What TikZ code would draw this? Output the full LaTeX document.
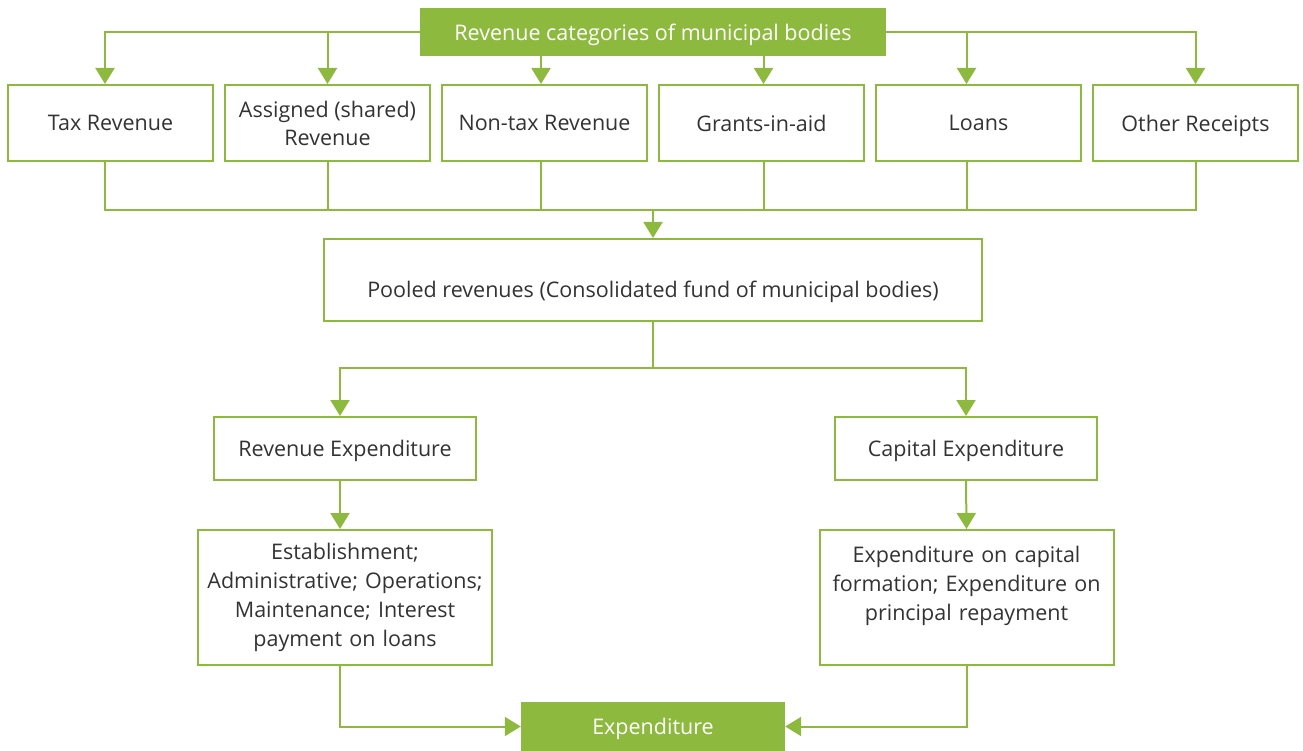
\documentclass[tikz,border=0pt]{standalone}
\usepackage{fontspec}
\setmainfont{Open Sans}
\usetikzlibrary{arrows.meta}
\definecolor{grn}{HTML}{8DB93F}
\definecolor{txt}{HTML}{333333}
\begin{document}
\begin{tikzpicture}[x=1pt,y=-1pt,
  detbox/.style={draw=grn, line width=2pt, fill=white, text=txt, font=\fontsize{21.5}{29}\selectfont, align=center, inner sep=0pt},
  box/.style={detbox, text depth=0pt},
  fbox/.style={fill=grn, text=white, font=\fontsize{21.5}{29}\selectfont, align=center, inner sep=0pt, text depth=0pt},
  line/.style={draw=grn, line width=2pt},
  arr/.style={line, -{Triangle[width=19pt,length=16pt]}}]
\useasboundingbox (0,0) rectangle (1303,751);
\node[fbox, minimum width=466pt, minimum height=48pt] (top) at (653,32) {Revenue categories of municipal bodies};
\foreach \n/\x/\t in {tax/110.5/{Tax Revenue}, assigned/327.5/{Assigned (shared)\\[-1pt]Revenue}, nontax/544.5/{Non-tax Revenue}, grants/761.5/{Grants-in-aid}, loans/978.5/{Loans}, other/1195.5/{Other Receipts}}
  \node[box, minimum width=205pt, minimum height=76pt] (\n) at (\x,123) {\t};
\coordinate (t1) at ([xshift=-5.5pt]tax.north);
\coordinate (b1) at ([xshift=-5.5pt]tax.south);
\coordinate (t3) at ([xshift=-3.5pt]nontax.north);
\coordinate (b3) at ([xshift=-3.5pt]nontax.south);
\coordinate (t4) at ([xshift=2pt]grants.north);
\coordinate (b4) at ([xshift=2pt]grants.south);
\coordinate (t5) at ([xshift=-12pt]loans.north);
\coordinate (b5) at ([xshift=-12pt]loans.south);
\draw[arr] (top.west) -| (t1);
\draw[arr] (top.west) -| (assigned.north);
\draw[arr] (top.south -| t3) -- (t3);
\draw[arr] (top.south -| t4) -- (t4);
\draw[arr] (top.east) -| (t5);
\draw[arr] (top.east) -| (other.north);
\node[box, minimum width=658pt, minimum height=82pt, text height=34pt] (pooled) at (653,280) {Pooled revenues (Consolidated fund of municipal bodies)};
\coordinate (bus) at (653,210);
\draw[line] (b1) |- (bus) -| (other.south);
\draw[line] (assigned.south) -- (assigned.south |- bus);
\draw[line] (b3) -- (b3 |- bus);
\draw[line] (b4) -- (b4 |- bus);
\draw[line] (b5) -- (b5 |- bus);
\draw[arr] (bus) -- (pooled.north);
\node[box, minimum width=262pt, minimum height=63pt] (revexp) at (345,448.5) {Revenue Expenditure};
\node[box, minimum width=262pt, minimum height=63pt] (capexp) at (966,448.5) {Capital Expenditure};
\coordinate (split) at (653,368);
\coordinate (r1) at ([xshift=-5pt]revexp.north);
\draw[line] (pooled.south) -- (split);
\draw[arr] (split) -| (r1);
\draw[arr] (split) -| (capexp.north);
\node[detbox, minimum width=294pt, minimum height=135pt, text width=290pt] (revdet) at (345,597.5) {Establishment;\\Administrative; Operations;\\Maintenance; Interest\\payment on loans};
\node[detbox, minimum width=294pt, minimum height=135pt, text width=290pt] (capdet) at (966.5,597.5) {Expenditure on capital\\formation; Expenditure on\\principal repayment\\~};
\coordinate (r2) at ([xshift=-5pt]revexp.south);
\coordinate (r3) at ([xshift=-5pt]revdet.north);
\coordinate (r4) at ([xshift=-5pt]revdet.south);
\draw[arr] (r2) -- (r3);
\draw[arr] (capexp.south) -- (capdet.north);
\node[fbox, minimum width=264pt, minimum height=49pt] (exp) at (653,726.5) {Expenditure};
\draw[arr] (r4) |- (exp.west);
\draw[arr] (capdet.south) |- (exp.east);
\end{tikzpicture}
\end{document}
